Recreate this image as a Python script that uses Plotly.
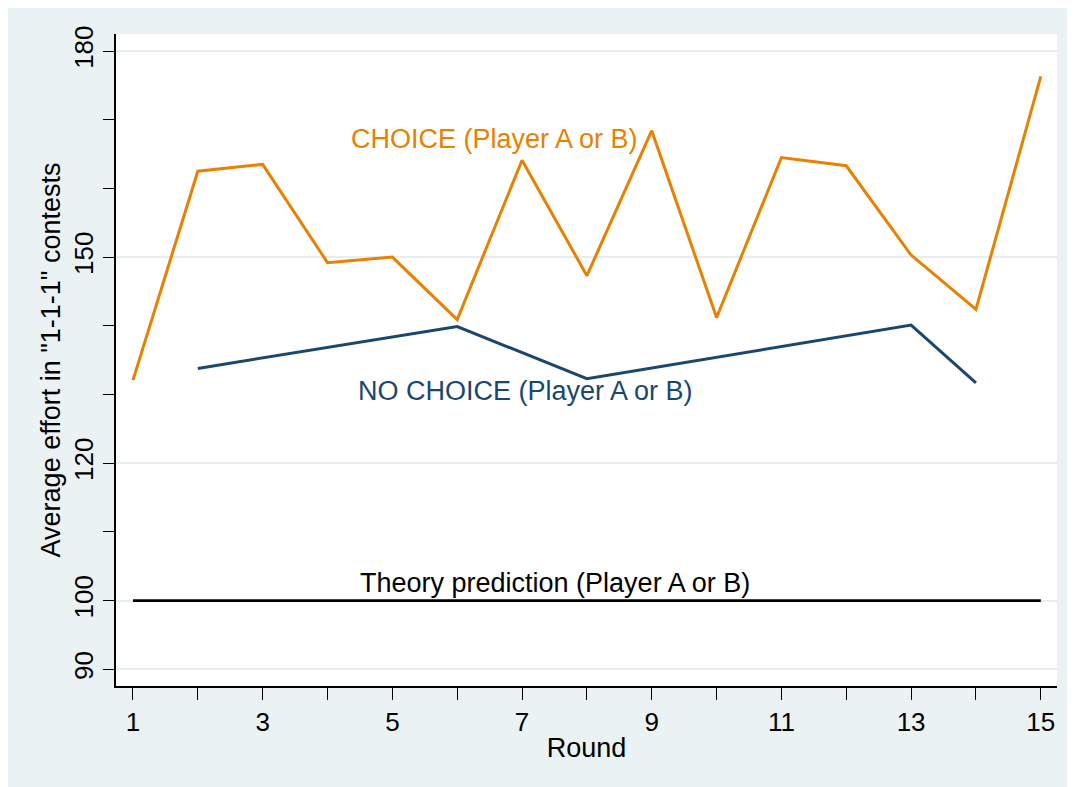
import plotly.graph_objects as go

# ---- data ----
rounds = list(range(1, 16))
choice_effort = [132.1, 162.5, 163.5, 149.2, 150.0, 140.9, 164.1, 147.3, 168.4,
                 141.2, 164.5, 163.3, 150.3, 142.4, 176.3]
nochoice_rounds = [2, 6, 8, 13, 14]
nochoice_effort = [133.8, 139.9, 132.3, 140.1, 131.7]
theory_rounds = [1, 15]
theory_effort = [100, 100]

y_tickvals = [90, 100, 120, 150, 180]
x_tickvals = [1, 3, 5, 7, 9, 11, 13, 15]

# label texts and positions (data coordinates)
choice_label = ("CHOICE (Player A or B)", 6.58, 167.2)
nochoice_label = ("NO CHOICE (Player A or B)", 7.05, 130.5)
theory_label = ("Theory prediction (Player A or B)", 7.51, 102.6)

ORANGE = "rgb(232,128,0)"
NAVY = "rgb(26,71,111)"
BG = "rgb(234,242,243)"
FONT = "Liberation Sans, Arial, sans-serif"

fig = go.Figure()
fig.add_trace(go.Scatter(x=rounds, y=choice_effort, mode="lines",
                         line=dict(color=ORANGE, width=3), showlegend=False))
fig.add_trace(go.Scatter(x=nochoice_rounds, y=nochoice_effort, mode="lines",
                         line=dict(color=NAVY, width=3), showlegend=False))
fig.add_trace(go.Scatter(x=theory_rounds, y=theory_effort, mode="lines",
                         line=dict(color="black", width=2.8), showlegend=False))

for (txt, x, y), col in [(choice_label, ORANGE), (nochoice_label, NAVY), (theory_label, "black")]:
    fig.add_annotation(x=x, y=y, text=txt, showarrow=False,
                       font=dict(family=FONT, size=27, color=col),
                       xanchor="center", yanchor="middle")

fig.update_layout(
    width=1085, height=797,
    margin=dict(l=108, r=36, t=26, b=119),
    paper_bgcolor=BG, plot_bgcolor="white",
    font=dict(family=FONT, color="black"),
    showlegend=False,
)

fig.update_xaxes(
    range=[0.738, 15.25], tickvals=x_tickvals, ticktext=[str(v) for v in x_tickvals],
    ticks="outside", ticklen=12, tickwidth=1.3, tickcolor="black",
    showline=True, linecolor="black", linewidth=1.5, showgrid=False, zeroline=False,
    tickfont=dict(size=26, family=FONT),
    minor=dict(tick0=1, dtick=1, ticks="outside", ticklen=12, tickwidth=1.3,
               tickcolor="black", showgrid=False),
    title=dict(text="Round", font=dict(size=27, family=FONT), standoff=2),
)
fig.update_yaxes(
    range=[87.57, 182.48], tickvals=y_tickvals, ticktext=[str(v) for v in y_tickvals],
    ticks="outside", ticklen=11, tickwidth=1.3, tickcolor="black", tickangle=-90,
    showline=True, linecolor="black", linewidth=1.5,
    showgrid=True, gridcolor="rgb(230,238,241)", gridwidth=2, zeroline=False,
    tickfont=dict(size=26, family=FONT),
    minor=dict(tick0=90, dtick=10, ticks="outside", ticklen=11, tickwidth=1.3,
               tickcolor="black", showgrid=False),
    title=dict(text='Average effort in "1-1-1" contests', font=dict(size=27, family=FONT),
               standoff=0),
)

fig.write_html("out.html")
